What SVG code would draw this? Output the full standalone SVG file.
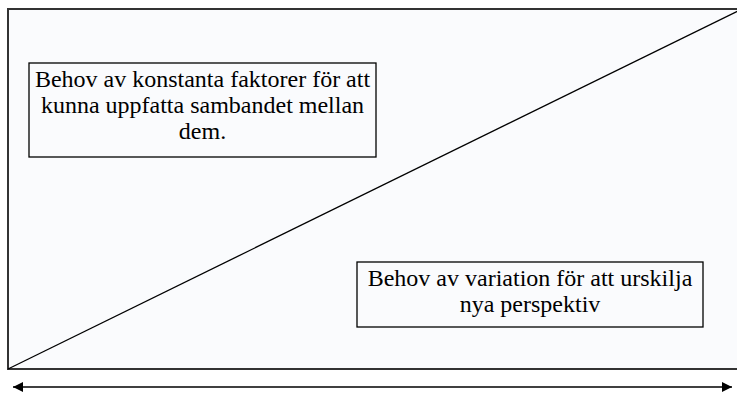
<svg xmlns="http://www.w3.org/2000/svg" width="737" height="394" viewBox="0 0 737 394">
<style>
.box{fill:#fafbfd;stroke:#000;stroke-width:1.3}
.ln{stroke:#000;stroke-width:1.3;fill:none}
.t{font-family:'Liberation Serif','Times New Roman',serif;font-size:24px;fill:#000;text-anchor:middle}
</style>
<defs>
<marker id="ah" viewBox="0 0 10 10" refX="10" refY="5" markerWidth="13" markerHeight="10" markerUnits="userSpaceOnUse" orient="auto-start-reverse">
<path d="M0,0 L10,5 L0,10 Z" fill="#000"/>
</marker>
</defs>
<rect width="737" height="394" fill="#fff"/>
<g id="frame">
<rect x="8" y="9" width="740" height="360" fill="#fafbfd" stroke="#333" stroke-width="2"/>
</g>
<g id="connectors">
<line class="ln" x1="8" y1="369" x2="742" y2="9"/>
<line class="ln" x1="13" y1="387" x2="732" y2="387" marker-start="url(#ah)" marker-end="url(#ah)"/>
</g>
<g id="node1">
<rect class="box" x="29" y="63" width="347" height="94"/>
<text class="t" x="202.5" y="87">Behov av konstanta faktorer för att</text>
<text class="t" x="202.5" y="113">kunna uppfatta sambandet mellan</text>
<text class="t" x="202.5" y="139">dem.</text>
</g>
<g id="node2">
<rect class="box" x="357" y="262" width="346" height="65"/>
<text class="t" x="530" y="286">Behov av variation för att urskilja</text>
<text class="t" x="530" y="312">nya perspektiv</text>
</g>
</svg>
